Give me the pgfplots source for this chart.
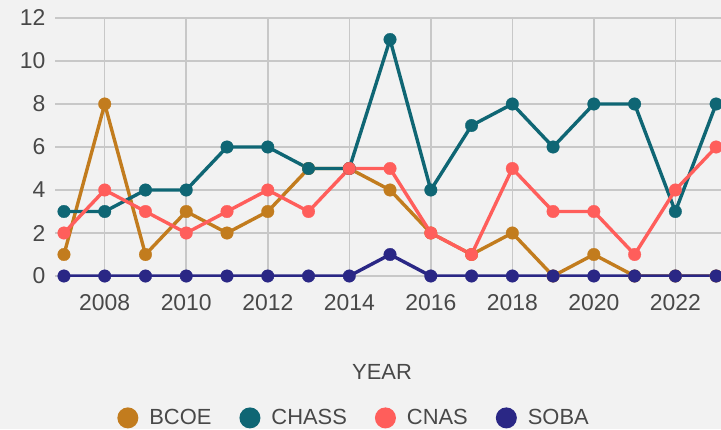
\documentclass[border=0pt]{standalone}
\usepackage{fontspec}
\setmainfont{Liberation Sans}
\usepackage{pgfplots}
\pgfplotsset{compat=1.18}
\definecolor{bg}{HTML}{F2F2F2}
\definecolor{gridc}{HTML}{C8C8C8}
\definecolor{txt}{HTML}{484848}
\definecolor{bcoe}{HTML}{C27C1E}
\definecolor{chass}{HTML}{0F6674}
\definecolor{cnas}{HTML}{FF5E5B}
\definecolor{soba}{HTML}{2A2785}
\tikzset{ser/.style={color=#1, line width=3.4bp, mark=*, mark size=6.3bp, mark options={line width=0.3bp, fill=#1}}}
\begin{document}
\begin{tikzpicture}[x=1bp,y=1bp]
\fill[bg] (0,0) rectangle (721,429);
\begin{axis}[
  at={(55bp,153bp)}, anchor=south west,
  scale only axis, width=666bp, height=258bp,
  xmin=2006.78, xmax=2023.12, ymin=0, ymax=12,
  xtick={2008,2010,...,2022}, ytick={0,2,...,12},
  grid=major, major grid style={draw=gridc, line width=1.5bp},
  axis line style={draw=none}, tick style={draw=none},
  extra y ticks={0}, extra y tick labels={},
  extra y tick style={grid style={draw=soba!60!black, line width=1.6bp}},
  /pgf/number format/1000 sep={},
  /pgf/number format/assume math mode=true,
  ticklabel style={font=\fontsize{23}{26}\selectfont, text=txt},
  xticklabel style={yshift=-15bp},
  yticklabel style={xshift=-6bp},
  xlabel={YEAR},
  xlabel style={at={(axis description cs:0.491,-0.372)}, anchor=center, font=\fontsize{22}{24}\selectfont, text=txt},
  legend columns=-1,
  legend style={at={(axis description cs:0.449,-0.55)}, anchor=center, draw=none, fill=none,
    font=\fontsize{22}{24}\selectfont, text=txt,
    /tikz/every odd column/.append style={column sep=9bp},
    /tikz/every even column/.append style={column sep=26bp}},
  legend image code/.code={\fill[#1, draw=none] (10.5bp,0bp) circle (10.5bp);},
  clip=true,
]
\addplot[ser=bcoe] coordinates {(2007,1)(2008,8)(2009,1)(2010,3)(2011,2)(2012,3)(2013,5)(2014,5)(2015,4)(2016,2)(2017,1)(2018,2)(2019,0)(2020,1)(2021,0)(2022,0)(2023,0)};
\addlegendentry{BCOE}
\addplot[ser=chass] coordinates {(2007,3)(2008,3)(2009,4)(2010,4)(2011,6)(2012,6)(2013,5)(2014,5)(2015,11)(2016,4)(2017,7)(2018,8)(2019,6)(2020,8)(2021,8)(2022,3)(2023,8)};
\addlegendentry{CHASS}
\addplot[ser=cnas] coordinates {(2007,2)(2008,4)(2009,3)(2010,2)(2011,3)(2012,4)(2013,3)(2014,5)(2015,5)(2016,2)(2017,1)(2018,5)(2019,3)(2020,3)(2021,1)(2022,4)(2023,6)};
\addlegendentry{CNAS}
\addplot[ser=soba] coordinates {(2007,0)(2008,0)(2009,0)(2010,0)(2011,0)(2012,0)(2013,0)(2014,0)(2015,1)(2016,0)(2017,0)(2018,0)(2019,0)(2020,0)(2021,0)(2022,0)(2023,0)};
\addlegendentry{SOBA}
\end{axis}
\pgfresetboundingbox
\useasboundingbox (0,0) rectangle (721,429);
\end{tikzpicture}
\end{document}
